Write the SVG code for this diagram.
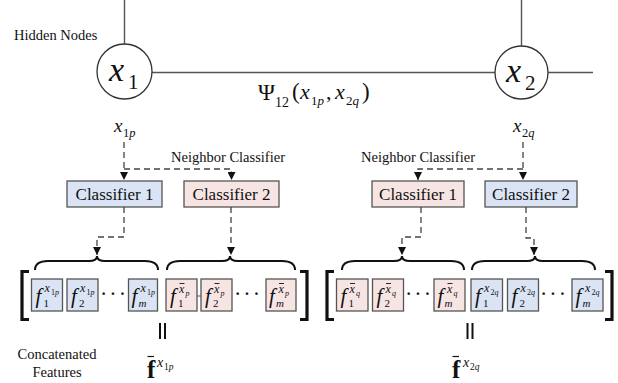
<svg xmlns="http://www.w3.org/2000/svg" width="618" height="383" viewBox="0 0 618 383">
  <defs>
    <marker id="arr" viewBox="0 0 8 8" refX="8" refY="4" markerWidth="8" markerHeight="8" markerUnits="userSpaceOnUse" orient="auto">
      <path d="M0 0 L8 4 L0 8 Z" fill="#111"/>
    </marker>
  </defs>

  <rect width="618" height="383" fill="#fff"/>

  <!-- Graph edges between hidden nodes -->
  <g id="edges" stroke="#555" stroke-width="1.4" fill="none">
    <line x1="124.5" y1="0" x2="124.5" y2="44"/>
    <line x1="151.5" y1="72.5" x2="495" y2="72.5"/>
    <line x1="521.5" y1="0" x2="521.5" y2="46"/>
    <line x1="548" y1="72.5" x2="593" y2="72.5"/>
  </g>

  <text font-family="Liberation Serif, serif" fill="#111" x="14" y="40" font-size="14.5">Hidden Nodes</text>

  <g id="node-x1">
    <circle cx="124.5" cy="71.5" r="27.5" fill="#fff" stroke="#333" stroke-width="1.3"/>
    <text font-family="Liberation Serif, serif" font-style="italic" fill="#111" x="109" y="81" font-size="34">x</text>
    <text font-family="Liberation Serif, serif" fill="#111" x="128" y="89" font-size="21">1</text>
  </g>
  <g id="node-x2">
    <circle cx="521.5" cy="72.5" r="26.5" fill="#fff" stroke="#333" stroke-width="1.3"/>
    <text font-family="Liberation Serif, serif" font-style="italic" fill="#111" x="506" y="82" font-size="34">x</text>
    <text font-family="Liberation Serif, serif" fill="#111" x="525" y="90" font-size="21">2</text>
  </g>

  <!-- Pairwise potential label -->
  <g id="psi-label" fill="#111">
    <text font-family="Liberation Serif, serif" x="258" y="100" font-size="23">Ψ</text>
    <text font-family="Liberation Serif, serif" x="275" y="107" font-size="14">12</text>
    <text font-family="Liberation Serif, serif" x="292" y="99" font-size="23">(</text>
    <text font-family="Liberation Serif, serif" font-style="italic" x="300" y="99" font-size="22">x</text>
    <text font-family="Liberation Serif, serif" x="311" y="105" font-size="13">1<tspan font-style="italic">p</tspan></text>
    <text font-family="Liberation Serif, serif" x="326" y="99" font-size="22">,</text>
    <text font-family="Liberation Serif, serif" font-style="italic" x="335" y="99" font-size="22">x</text>
    <text font-family="Liberation Serif, serif" x="346" y="105" font-size="13">2<tspan font-style="italic">q</tspan></text>
    <text font-family="Liberation Serif, serif" x="362" y="99" font-size="23">)</text>
  </g>

  <!-- Observation labels -->
  <g id="obs-x1p" fill="#111">
    <text font-family="Liberation Serif, serif" font-style="italic" x="114" y="132" font-size="19">x</text>
    <text font-family="Liberation Serif, serif" x="123" y="137" font-size="12.5">1<tspan font-style="italic">p</tspan></text>
  </g>
  <g id="obs-x2q" fill="#111">
    <text font-family="Liberation Serif, serif" font-style="italic" x="513" y="132" font-size="19">x</text>
    <text font-family="Liberation Serif, serif" x="522" y="137" font-size="12.5">2<tspan font-style="italic">q</tspan></text>
  </g>

  <text font-family="Liberation Serif, serif" fill="#111" x="171" y="162" font-size="14.5">Neighbor Classifier</text>
  <text font-family="Liberation Serif, serif" fill="#111" x="361" y="162" font-size="14.5">Neighbor Classifier</text>

  <!-- Classifiers -->
  <g id="left-classifier-1">
    <rect x="67" y="181" width="95" height="26" fill="#dae4f4" stroke="#555" stroke-width="1.3"/>
    <text font-family="Liberation Serif, serif" fill="#111" x="114.5" y="200" font-size="17" text-anchor="middle">Classifier 1</text>
  </g>
  <g id="left-classifier-2">
    <rect x="184" y="181" width="95" height="26" fill="#f7e5e4" stroke="#555" stroke-width="1.3"/>
    <text font-family="Liberation Serif, serif" fill="#111" x="231.5" y="200" font-size="17" text-anchor="middle">Classifier 2</text>
  </g>
  <g id="right-classifier-1">
    <rect x="372" y="181" width="92" height="26" fill="#f7e5e4" stroke="#555" stroke-width="1.3"/>
    <text font-family="Liberation Serif, serif" fill="#111" x="418" y="200" font-size="17" text-anchor="middle">Classifier 1</text>
  </g>
  <g id="right-classifier-2">
    <rect x="485" y="181" width="92" height="26" fill="#dae4f4" stroke="#555" stroke-width="1.3"/>
    <text font-family="Liberation Serif, serif" fill="#111" x="531" y="200" font-size="17" text-anchor="middle">Classifier 2</text>
  </g>

  <!-- Dashed data-flow connectors -->
  <g id="connectors" stroke="#444" stroke-width="1.3" fill="none" stroke-dasharray="6 4">
    <path d="M124 142 V180" marker-end="url(#arr)"/>
    <path d="M124 169 H231.5 V180" marker-end="url(#arr)"/>
    <path d="M523 142 V180" marker-end="url(#arr)"/>
    <path d="M523 169 H418 V180" marker-end="url(#arr)"/>
    <path d="M124 207 V237 H97 V255" marker-end="url(#arr)"/>
    <path d="M231 207 V255" marker-end="url(#arr)"/>
    <path d="M421 207 V237 H402 V255" marker-end="url(#arr)"/>
    <path d="M526 207 V238 H534 V255" marker-end="url(#arr)"/>
  </g>

  <!-- Over-braces -->
  <g stroke="#111" stroke-width="2" fill="none">
    <path d="M35 270 Q35 261 48 261 L89 261 Q97 261 97 256 Q97 261 105 261 L145 261 Q158 261 158 270"/>
    <path d="M167 270 Q167 261 180 261 L222 261 Q230 261 230 256 Q230 261 238 261 L282 261 Q295 261 295 270"/>
    <path d="M342 270 Q342 261 355 261 L394 261 Q402 261 402 256 Q402 261 410 261 L451 261 Q464 261 464 270"/>
    <path d="M472 270 Q472 261 485 261 L527 261 Q535 261 535 256 Q535 261 543 261 L582 261 Q595 261 595 270"/>
  </g>

  <!-- Brackets -->
  <g stroke="#111" stroke-width="3.2" fill="none">
    <path d="M29 271.5 H22 V319.5 H29"/>
    <path d="M300 271.5 H307 V319.5 H300"/>
    <path d="M334 271.5 H327 V319.5 H334"/>
    <path d="M605 271.5 H612 V319.5 H605"/>
  </g>

  <!-- Left feature vector: own features -->
  <g id="lf1" transform="translate(31.5,279)" fill="#111">
    <rect width="31" height="32" fill="#dae4f4" stroke="#555" stroke-width="1.3"/>
    <text font-family="Liberation Serif, serif" font-style="italic" x="4" y="24" font-size="21">f</text>
    <text font-family="Liberation Serif, serif" x="12" y="28" font-size="11">1</text>
    <text font-family="Liberation Serif, serif" font-style="italic" x="13" y="13" font-size="12">x</text>
    <text font-family="Liberation Serif, serif" x="19.5" y="16" font-size="8">1<tspan font-style="italic">p</tspan></text>
  </g>
  <g id="lf2" transform="translate(67,279)" fill="#111">
    <rect width="31" height="32" fill="#dae4f4" stroke="#555" stroke-width="1.3"/>
    <text font-family="Liberation Serif, serif" font-style="italic" x="4" y="24" font-size="21">f</text>
    <text font-family="Liberation Serif, serif" x="12" y="28" font-size="11">2</text>
    <text font-family="Liberation Serif, serif" font-style="italic" x="13" y="13" font-size="12">x</text>
    <text font-family="Liberation Serif, serif" x="19.5" y="16" font-size="8">1<tspan font-style="italic">p</tspan></text>
  </g>
  <text font-family="Liberation Serif, serif" fill="#111" x="101" y="299" font-size="16" font-weight="bold">· · ·</text>
  <g id="lfm" transform="translate(128.5,279)" fill="#111">
    <rect width="29" height="32" fill="#dae4f4" stroke="#555" stroke-width="1.3"/>
    <text font-family="Liberation Serif, serif" font-style="italic" x="3" y="24" font-size="21">f</text>
    <text font-family="Liberation Serif, serif" font-style="italic" x="10" y="28" font-size="11">m</text>
    <text font-family="Liberation Serif, serif" font-style="italic" x="12" y="13" font-size="12">x</text>
    <text font-family="Liberation Serif, serif" x="18.5" y="16" font-size="8">1<tspan font-style="italic">p</tspan></text>
  </g>

  <!-- Left feature vector: neighbor features -->
  <g id="ln1" transform="translate(166,279)" fill="#111">
    <rect width="31" height="32" fill="#f7e5e4" stroke="#555" stroke-width="1.3"/>
    <text font-family="Liberation Serif, serif" font-style="italic" x="4" y="24" font-size="21">f</text>
    <text font-family="Liberation Serif, serif" x="12" y="28" font-size="11">1</text>
    <line x1="13.5" y1="4.5" x2="18.5" y2="4.5" stroke="#111" stroke-width="0.9"/>
    <text font-family="Liberation Serif, serif" font-style="italic" x="13" y="14" font-size="12">x</text>
    <text font-family="Liberation Serif, serif" font-style="italic" x="19.5" y="17" font-size="8">p</text>
  </g>
  <line x1="197" y1="296" x2="201" y2="296" stroke="#555" stroke-width="1"/>
  <g id="ln2" transform="translate(201,279)" fill="#111">
    <rect width="31" height="32" fill="#f7e5e4" stroke="#555" stroke-width="1.3"/>
    <text font-family="Liberation Serif, serif" font-style="italic" x="4" y="24" font-size="21">f</text>
    <text font-family="Liberation Serif, serif" x="12" y="28" font-size="11">2</text>
    <line x1="13.5" y1="4.5" x2="18.5" y2="4.5" stroke="#111" stroke-width="0.9"/>
    <text font-family="Liberation Serif, serif" font-style="italic" x="13" y="14" font-size="12">x</text>
    <text font-family="Liberation Serif, serif" font-style="italic" x="19.5" y="17" font-size="8">p</text>
  </g>
  <text font-family="Liberation Serif, serif" fill="#111" x="235" y="299" font-size="16" font-weight="bold">· · ·</text>
  <g id="lnm" transform="translate(266,279)" fill="#111">
    <rect width="30" height="32" fill="#f7e5e4" stroke="#555" stroke-width="1.3"/>
    <text font-family="Liberation Serif, serif" font-style="italic" x="3" y="24" font-size="21">f</text>
    <text font-family="Liberation Serif, serif" font-style="italic" x="10" y="28" font-size="11">m</text>
    <line x1="13" y1="4.5" x2="18" y2="4.5" stroke="#111" stroke-width="0.9"/>
    <text font-family="Liberation Serif, serif" font-style="italic" x="12.5" y="14" font-size="12">x</text>
    <text font-family="Liberation Serif, serif" font-style="italic" x="19" y="17" font-size="8">p</text>
  </g>

  <!-- Right feature vector: neighbor features -->
  <g id="rn1" transform="translate(336.5,279)" fill="#111">
    <rect width="31.5" height="32" fill="#f7e5e4" stroke="#555" stroke-width="1.3"/>
    <text font-family="Liberation Serif, serif" font-style="italic" x="4" y="24" font-size="21">f</text>
    <text font-family="Liberation Serif, serif" x="12" y="28" font-size="11">1</text>
    <line x1="13.5" y1="4.5" x2="18.5" y2="4.5" stroke="#111" stroke-width="0.9"/>
    <text font-family="Liberation Serif, serif" font-style="italic" x="13" y="14" font-size="12">x</text>
    <text font-family="Liberation Serif, serif" font-style="italic" x="19.5" y="17" font-size="8">q</text>
  </g>
  <g id="rn2" transform="translate(372.5,279)" fill="#111">
    <rect width="31" height="32" fill="#f7e5e4" stroke="#555" stroke-width="1.3"/>
    <text font-family="Liberation Serif, serif" font-style="italic" x="4" y="24" font-size="21">f</text>
    <text font-family="Liberation Serif, serif" x="12" y="28" font-size="11">2</text>
    <line x1="13.5" y1="4.5" x2="18.5" y2="4.5" stroke="#111" stroke-width="0.9"/>
    <text font-family="Liberation Serif, serif" font-style="italic" x="13" y="14" font-size="12">x</text>
    <text font-family="Liberation Serif, serif" font-style="italic" x="19.5" y="17" font-size="8">q</text>
  </g>
  <text font-family="Liberation Serif, serif" fill="#111" x="406" y="299" font-size="16" font-weight="bold">· · ·</text>
  <g id="rnm" transform="translate(434,279)" fill="#111">
    <rect width="31" height="32" fill="#f7e5e4" stroke="#555" stroke-width="1.3"/>
    <text font-family="Liberation Serif, serif" font-style="italic" x="3.5" y="24" font-size="21">f</text>
    <text font-family="Liberation Serif, serif" font-style="italic" x="10.5" y="28" font-size="11">m</text>
    <line x1="13.5" y1="4.5" x2="18.5" y2="4.5" stroke="#111" stroke-width="0.9"/>
    <text font-family="Liberation Serif, serif" font-style="italic" x="13" y="14" font-size="12">x</text>
    <text font-family="Liberation Serif, serif" font-style="italic" x="19.5" y="17" font-size="8">q</text>
  </g>

  <!-- Right feature vector: own features -->
  <g id="rf1" transform="translate(471,279)" fill="#111">
    <rect width="31.5" height="32" fill="#dae4f4" stroke="#555" stroke-width="1.3"/>
    <text font-family="Liberation Serif, serif" font-style="italic" x="4" y="24" font-size="21">f</text>
    <text font-family="Liberation Serif, serif" x="12" y="28" font-size="11">1</text>
    <text font-family="Liberation Serif, serif" font-style="italic" x="13" y="13" font-size="12">x</text>
    <text font-family="Liberation Serif, serif" x="19.5" y="16" font-size="8">2<tspan font-style="italic">q</tspan></text>
  </g>
  <g id="rf2" transform="translate(507.5,279)" fill="#111">
    <rect width="31" height="32" fill="#dae4f4" stroke="#555" stroke-width="1.3"/>
    <text font-family="Liberation Serif, serif" font-style="italic" x="4" y="24" font-size="21">f</text>
    <text font-family="Liberation Serif, serif" x="12" y="28" font-size="11">2</text>
    <text font-family="Liberation Serif, serif" font-style="italic" x="13" y="13" font-size="12">x</text>
    <text font-family="Liberation Serif, serif" x="19.5" y="16" font-size="8">2<tspan font-style="italic">q</tspan></text>
  </g>
  <text font-family="Liberation Serif, serif" fill="#111" x="541" y="299" font-size="16" font-weight="bold">· · ·</text>
  <g id="rfm" transform="translate(572,279)" fill="#111">
    <rect width="31" height="32" fill="#dae4f4" stroke="#555" stroke-width="1.3"/>
    <text font-family="Liberation Serif, serif" font-style="italic" x="3.5" y="24" font-size="21">f</text>
    <text font-family="Liberation Serif, serif" font-style="italic" x="10.5" y="28" font-size="11">m</text>
    <text font-family="Liberation Serif, serif" font-style="italic" x="13" y="13" font-size="12">x</text>
    <text font-family="Liberation Serif, serif" x="19.5" y="16" font-size="8">2<tspan font-style="italic">q</tspan></text>
  </g>

  <!-- Equality marks -->
  <g stroke="#111" stroke-width="2">
    <line x1="160" y1="323" x2="160" y2="339"/>
    <line x1="165" y1="323" x2="165" y2="339"/>
    <line x1="467.5" y1="323" x2="467.5" y2="339"/>
    <line x1="472.5" y1="323" x2="472.5" y2="339"/>
  </g>

  <!-- Concatenated feature symbols -->
  <g id="fbar-1" fill="#111">
    <line x1="147.5" y1="356.5" x2="154" y2="356.5" stroke="#111" stroke-width="1.2"/>
    <text font-family="Liberation Serif, serif" font-weight="bold" x="147" y="378" font-size="25">f</text>
    <text font-family="Liberation Serif, serif" font-style="italic" x="157" y="367" font-size="14">x</text>
    <text font-family="Liberation Serif, serif" x="164" y="370" font-size="9.5">1<tspan font-style="italic">p</tspan></text>
  </g>
  <g id="fbar-2" fill="#111">
    <line x1="452.5" y1="356.5" x2="459" y2="356.5" stroke="#111" stroke-width="1.2"/>
    <text font-family="Liberation Serif, serif" font-weight="bold" x="452" y="378" font-size="25">f</text>
    <text font-family="Liberation Serif, serif" font-style="italic" x="463" y="367" font-size="14">x</text>
    <text font-family="Liberation Serif, serif" x="470" y="370" font-size="9.5">2<tspan font-style="italic">q</tspan></text>
  </g>

  <text font-family="Liberation Serif, serif" fill="#111" x="57" y="359" font-size="14.5" text-anchor="middle">Concatenated</text>
  <text font-family="Liberation Serif, serif" fill="#111" x="57" y="377" font-size="14.5" text-anchor="middle">Features</text>
</svg>
